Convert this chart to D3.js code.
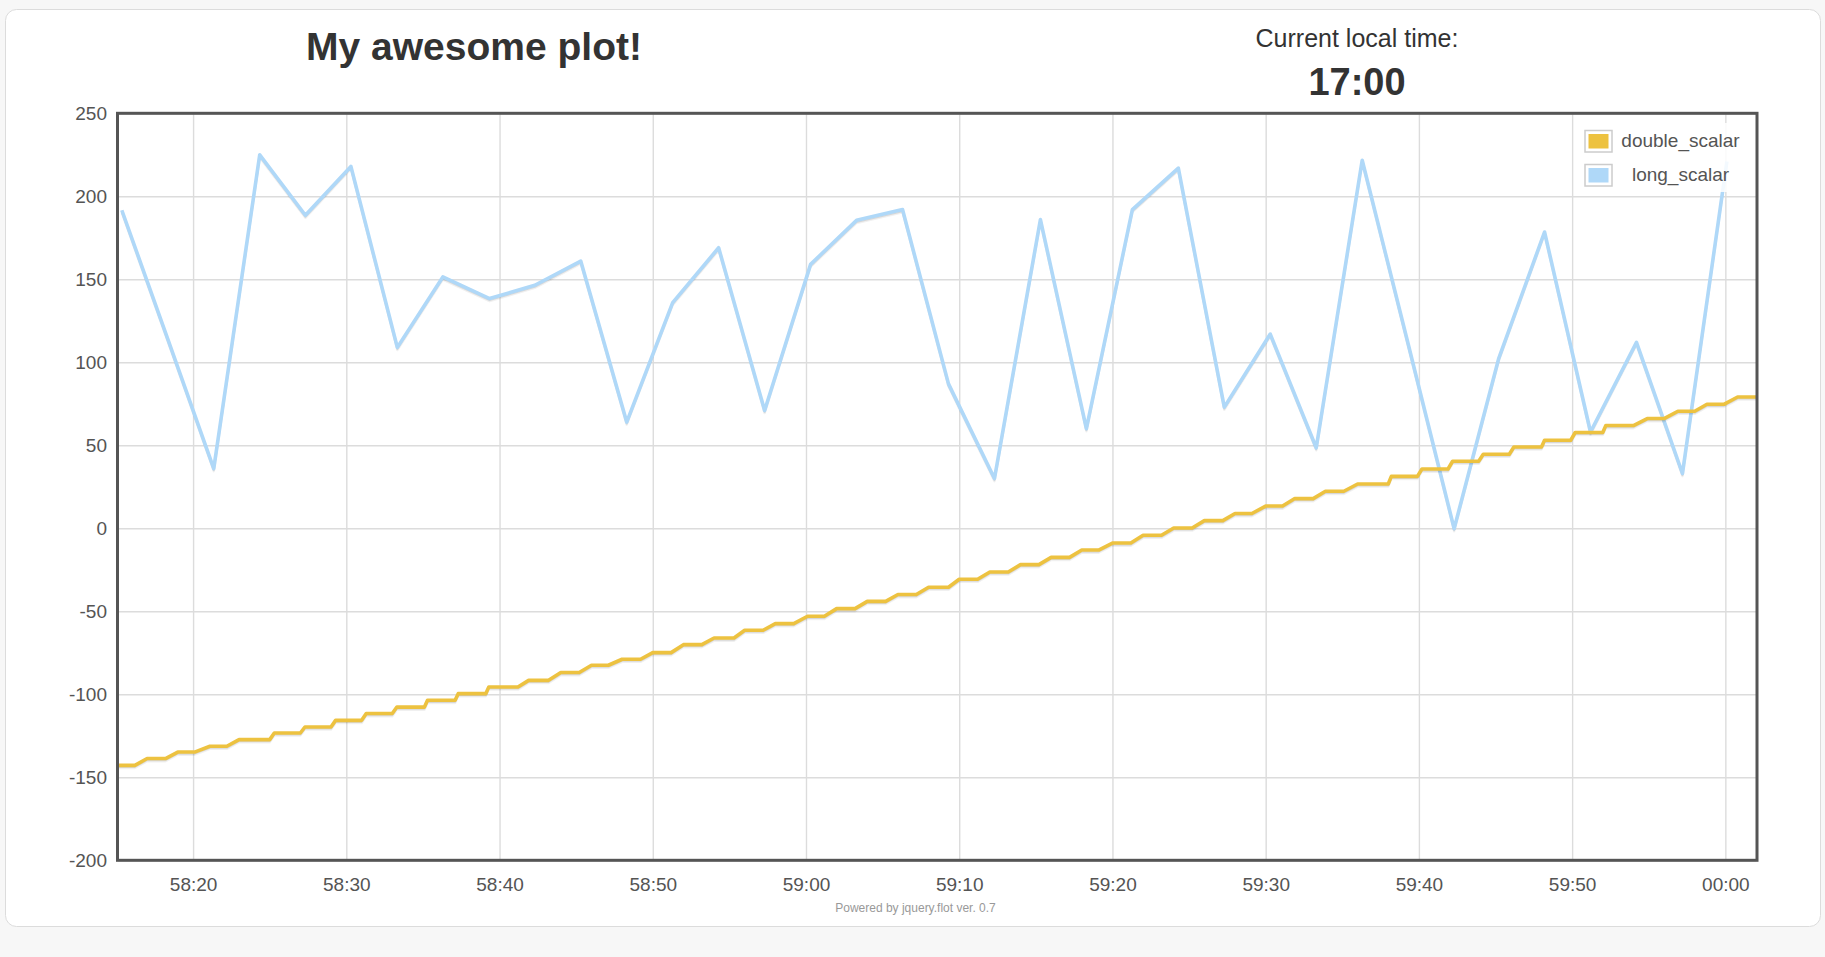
<!DOCTYPE html>
<html>
<head>
<meta charset="utf-8">
<script src="https://cdnjs.cloudflare.com/ajax/libs/d3/7.8.5/d3.min.js"></script>
<style>
  html, body { margin: 0; padding: 0; background: #f7f7f7; }
  svg { display: block; font-family: "Liberation Sans", Arial, sans-serif; }
</style>
</head>
<body>
<svg id="chart" width="1825" height="957"></svg>
<script>
// samples are seconds after 16:58:15
var baseTime = new Date(2013, 5, 1, 16, 58, 15);

var longTimes = [0.35, 3.35, 6.35, 9.35, 12.33, 15.3, 18.33, 21.3, 24.35, 27.3,
    30.3, 33.3, 36.3, 39.3, 42.3, 45.3, 48.3, 51.3, 54.3, 57.3,
    60.3, 63.3, 66.3, 69.3, 72.3, 75.3, 78.3, 81.3, 84.3, 87.3,
    90.2, 93.2, 96.2, 99.2, 102.2, 105.1];
var longValues = [191.6, 114, 36, 225, 188.6, 218, 109, 151.4, 138.4, 146.4,
    161, 64, 136, 169, 71, 159, 185.5, 192, 87, 30,
    186, 60, 192, 217, 73, 117, 48.5, 221.7, 111, -0.2,
    102, 178.5, 58, 112, 33, 221];

var doubleTimes = [0.1, 1.2, 2.0, 3.2, 4.0, 5.1, 6.1, 7.2, 8.0, 10.0,
    10.3, 12.0, 12.3, 14.0, 14.3, 16.0, 16.3, 18.0, 18.3, 20.1,
    20.3, 22.1, 22.3, 24.1, 24.3, 26.2, 26.9, 28.2, 29.0, 30.2,
    31.0, 32.1, 33.0, 34.2, 35.0, 36.2, 37.0, 38.2, 39.0, 40.3,
    41.0, 42.2, 43.0, 44.2, 45.1, 46.2, 47.0, 48.2, 49.0, 50.2,
    51.0, 52.2, 53.0, 54.3, 55.0, 56.2, 57.0, 58.2, 59.0, 60.2,
    61.0, 62.2, 63.0, 64.1, 65.0, 66.2, 67.0, 68.2, 69.0, 70.2,
    71.0, 72.2, 73.0, 74.1, 75.0, 76.1, 76.9, 78.1, 78.9, 80.1,
    81.0, 83.0, 83.2, 84.9, 85.2, 86.9, 87.2, 88.9, 89.2, 90.9,
    91.2, 93.0, 93.2, 94.9, 95.2, 97.0, 97.2, 99.0, 99.9, 101.0,
    101.9, 103.0, 103.8, 104.9, 105.8, 107.0];
var doubleValues = [-142.8, -142.8, -138.7, -138.7, -134.8, -134.8, -131.3, -131.3, -127.3, -127.3,
    -123.3, -123.3, -119.7, -119.7, -115.7, -115.7, -111.6, -111.6, -107.7, -107.7,
    -103.6, -103.6, -99.6, -99.6, -95.6, -95.6, -91.6, -91.6, -86.9, -86.9,
    -82.5, -82.5, -78.9, -78.9, -74.9, -74.9, -70.1, -70.1, -66.1, -66.1,
    -61.4, -61.4, -57.4, -57.4, -53.0, -53.0, -48.4, -48.4, -44.0, -44.0,
    -39.9, -39.9, -35.5, -35.5, -30.7, -30.7, -26.3, -26.3, -21.9, -21.9,
    -17.5, -17.5, -13.1, -13.1, -8.9, -8.9, -4.2, -4.2, 0.2, 0.2,
    4.6, 4.6, 8.9, 8.9, 13.4, 13.4, 17.9, 17.9, 22.3, 22.3,
    26.7, 26.7, 31.3, 31.3, 35.7, 35.7, 40.4, 40.4, 44.6, 44.6,
    49.0, 49.0, 53.0, 53.0, 57.7, 57.7, 61.9, 61.9, 66.1, 66.1,
    70.5, 70.5, 74.7, 74.7, 79.1, 79.1];

var yTicks = [-200, -150, -100, -50, 0, 50, 100, 150, 200, 250];
var seriesNames = ["double_scalar", "long_scalar"];
var seriesColors = ["#edc240", "#afd8f8"];

function toDate(s) { return new Date(baseTime.getTime() + s * 1000); }

var doubleData = doubleTimes.map(function (t, i) { return { t: toDate(t), v: doubleValues[i] }; });
var longData = longTimes.map(function (t, i) { return { t: toDate(t), v: longValues[i] }; });

var plotLeft = 118, plotRight = 1756, plotTop = 113.3, plotBottom = 860.3;

var svg = d3.select("#chart");

// card
svg.append("rect")
    .attr("x", 5.5).attr("y", 9.5)
    .attr("width", 1815).attr("height", 917)
    .attr("rx", 11)
    .style("fill", "#fff").style("stroke", "#dcdcdc");

svg.append("text").text("My awesome plot!")
    .attr("x", 474).attr("y", 60)
    .attr("text-anchor", "middle")
    .style("font-size", "39px").style("font-weight", "bold").style("fill", "#333");

svg.append("text").text("Current local time:")
    .attr("x", 1357).attr("y", 46.5)
    .attr("text-anchor", "middle")
    .style("font-size", "25px").style("fill", "#333");

svg.append("text").text("17:00")
    .attr("x", 1357).attr("y", 95)
    .attr("text-anchor", "middle")
    .style("font-size", "38px").style("font-weight", "bold").style("fill", "#333");

var x = d3.scaleTime()
    .domain(d3.extent(doubleData.concat(longData), function (d) { return d.t; }))
    .range([plotLeft, plotRight]);
var y = d3.scaleLinear().domain([-200, 250]).range([plotBottom, plotTop]);

var xAxis = svg.append("g")
    .attr("transform", "translate(0," + plotBottom + ")")
    .call(d3.axisBottom(x)
        .ticks(d3.timeSecond.every(10))
        .tickFormat(d3.timeFormat("%M:%S"))
        .tickSize(-(plotBottom - plotTop))
        .tickPadding(17.5));

var yAxis = svg.append("g")
    .attr("transform", "translate(" + plotLeft + ",0)")
    .call(d3.axisLeft(y)
        .tickValues(yTicks)
        .tickFormat(function (d) { return String(d); })
        .tickSize(-(plotRight - plotLeft))
        .tickPadding(11));

[xAxis, yAxis].forEach(function (g) {
    g.select(".domain").remove();
    g.selectAll("line").style("stroke", "#dcdcdc").style("stroke-width", 1.4);
    g.selectAll("text")
        .style("font-size", "19px")
        .style("font-family", "'Liberation Sans', Arial, sans-serif")
        .style("fill", "#545454");
});

var line = d3.line()
    .x(function (d) { return x(d.t); })
    .y(function (d) { return y(d.v); });

var plot = svg.append("g");

function drawSeries(data, color) {
    // flot style soft shadow under each line
    plot.append("path").datum(data)
        .attr("d", line)
        .attr("transform", "translate(0,2.6)")
        .style("fill", "none").style("stroke", "rgba(0,0,0,0.06)")
        .style("stroke-width", 2.5).style("stroke-linejoin", "round");
    plot.append("path").datum(data)
        .attr("d", line)
        .attr("transform", "translate(0,1.6)")
        .style("fill", "none").style("stroke", "rgba(0,0,0,0.1)")
        .style("stroke-width", 2).style("stroke-linejoin", "round");
    plot.append("path").datum(data)
        .attr("d", line)
        .style("fill", "none").style("stroke", color)
        .style("stroke-width", 3.6).style("stroke-linejoin", "round");
}

drawSeries(longData, seriesColors[1]);
drawSeries(doubleData, seriesColors[0]);

// plot border
svg.append("rect")
    .attr("x", plotLeft - 0.5).attr("y", plotTop)
    .attr("width", plotRight - plotLeft + 1.5).attr("height", plotBottom - plotTop)
    .style("fill", "none").style("stroke", "#555").style("stroke-width", 3);

// legend
var legend = svg.append("g");
legend.append("rect")
    .attr("x", 1578).attr("y", 123).attr("width", 172).attr("height", 69)
    .style("fill", "#fff").style("opacity", 0.85);

var items = legend.selectAll("g.item")
    .data(seriesNames)
    .enter().append("g")
    .attr("class", "item")
    .attr("transform", function (d, i) { return "translate(0," + (i * 34) + ")"; });

items.append("rect")
    .attr("x", 1585).attr("y", 130.5).attr("width", 27).attr("height", 21.5)
    .style("fill", "#fff").style("stroke", "#ccc").style("stroke-width", 1.5);
items.append("rect")
    .attr("x", 1588.5).attr("y", 134).attr("width", 20).attr("height", 14.5)
    .style("fill", function (d, i) { return seriesColors[i]; });
items.append("text")
    .text(function (d) { return d; })
    .attr("x", 1680.5).attr("y", 146.5)
    .attr("text-anchor", "middle")
    .style("font-size", "19px").style("fill", "#545454");

svg.append("text").text("Powered by jquery.flot ver. 0.7")
    .attr("x", 915.5).attr("y", 912)
    .attr("text-anchor", "middle")
    .style("font-size", "12px").style("fill", "#999");
</script>
</body>
</html>
